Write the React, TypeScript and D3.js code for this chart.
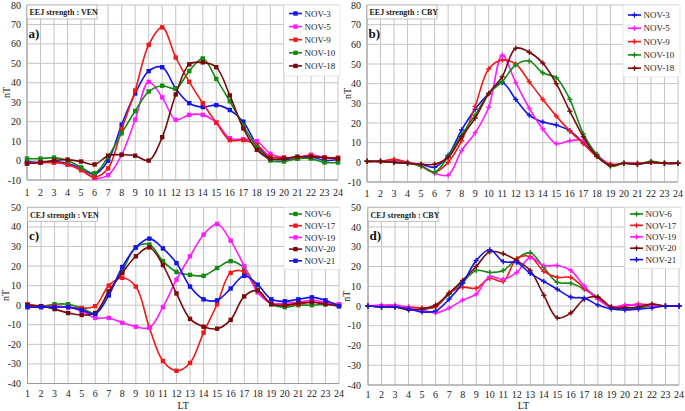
import React from "react";
import * as d3 from "d3";

// ---------- DATA ----------
const hours = [1, 2, 3, 4, 5, 6, 7, 8, 9, 10, 11, 12, 13, 14, 15, 16, 17, 18, 19, 20, 21, 22, 23, 24];

const eejNames = ["NOV-3", "NOV-5", "NOV-9", "NOV-10", "NOV-18"];
const cejNames = ["NOV-6", "NOV-17", "NOV-19", "NOV-20", "NOV-21"];

// a) EEJ strength : VEN
const venEEJ_nov3 = [-0.5, -1, -0.5, -1.5, -4, -7, 0, 18.5, 34.5, 46, 48, 37, 29.5, 27.5, 28.5, 26, 20, 8, 1, 0.5, 1, 2, 0, 0.5];
const venEEJ_nov5 = [-1.5, -1, -1, -2, -4.5, -9, -7.5, 3, 21, 40.5, 32.5, 21, 23.5, 23.5, 19.5, 11.5, 11, 10, 3.5, 1.5, 1.5, 3, 1.5, 1];
const venEEJ_nov9 = [-1.5, -1, -1, -2, -5, -8.5, -4, 16, 36, 59.5, 68.5, 53, 40.5, 29.5, 19.5, 10.5, 10.5, 8, 2, 1.5, 1.5, 2.5, 1.5, 1.5];
const venEEJ_nov10 = [1, 1, 1.5, 0, -3.5, -6.5, 2, 14, 25.5, 35.5, 38.5, 37, 46, 52.5, 42, 30.5, 18, 7, 0, -0.5, 1, 1, -1, -1];
const venEEJ_nov18 = [-1.5, -1, 0, 0.5, -0.5, -2, 2.5, 3, 2.5, 0, 12, 34, 49.5, 50.5, 48, 33.5, 16.5, 5.5, 1, 1, 2, 2, 1.5, 1];

// b) EEJ strength : CBY
const cbyEEJ_nov3 = [0.5, 0.5, 0, -0.5, -1, -2.5, 3.5, 16.5, 27, 35, 40.5, 32, 24, 20.5, 19, 16, 10, 3, -1.5, -0.5, -1, 0, -0.5, -0.5];
const cbyEEJ_nov5 = [0.5, 0.5, 1, 0, -1.5, -5.5, -6.5, 6, 15, 28, 54.5, 40.5, 27.5, 17, 9.5, 11, 11, 4, -1, -0.5, -0.5, 0, -0.5, -0.5];
const cbyEEJ_nov9 = [0.5, 0.5, 1.5, 0, -2, -5, 0, 11, 28.5, 47.5, 52, 50, 41, 32, 23.5, 16, 9.5, 3, -1, -0.5, -0.5, 0, -0.5, -0.5];
const cbyEEJ_nov10 = [0.5, 0.5, 0, -0.5, -2, -5, 3, 14, 24, 35, 41, 49.5, 51.5, 45.5, 43, 32, 14.5, 4, -2, -0.5, -1, 0.5, -0.5, -0.5];
const cbyEEJ_nov18 = [0.5, 0.5, 0, -0.5, -1, -1, 2.5, 13, 22.5, 35, 43.5, 58, 56, 50.5, 40, 26, 13, 3, -1.5, -0.5, -1, 0, -0.5, -0.5];

// c) CEJ strength : VEN
const venCEJ_nov6 = [0.5, -0.5, 0.5, 0.5, -1.5, -4, 7, 17.5, 29.5, 31, 22.5, 17, 15.5, 15, 19, 22.5, 19, 8, 0.5, -1, 0, 0, 0.5, 0.5];
const venCEJ_nov17 = [0.5, -0.5, -0.5, -1, -1.5, -0.5, 10, 14, 9.5, -11.5, -28.5, -33.5, -29.5, -14, 0.5, 16.5, 17, 7.5, 1, 0, 0.5, 1.5, 1, 0];
const venCEJ_nov19 = [-1, -1, -1, -1, -3, -6.5, -6.5, -9, -11, -11.5, -1, 13, 25, 36, 41.5, 33, 20, 6.5, 1, 1, 1.5, 2.5, 1.5, 0.5];
const venCEJ_nov20 = [0, -0.5, -2, -4, -5, -4, 7, 16.5, 25, 29.5, 20.5, 6, -7, -11, -12, -7.5, 4.5, 7.5, 0.5, 0, 1, 1.5, 0.5, -0.5];
const venCEJ_nov21 = [-1, -1, -1, -1, -2.5, -4.5, 5, 19.5, 29.5, 34, 29, 21.5, 9.5, 3, 2.5, 8.5, 15, 10.5, 3, 2, 3, 4, 2.5, -0.5];

// d) CEJ strength : CBY
const cbyCEJ_nov6 = [0, 0, -0.5, -1.5, -2, 0, 6, 12, 18, 17, 18, 24, 27, 19.5, 12, 11.5, 8.5, 4.5, -1, -1, -1, 0, 0, 0];
const cbyCEJ_nov17 = [0, 0, 0, -0.5, -1, -0.5, 6.5, 9.5, 9, 14, 12.5, 24, 25, 17.5, 14.5, 14.5, 9, 3.5, -0.5, 0, 1, 0.5, 0, 0];
const cbyCEJ_nov19 = [0, 0.5, 0.5, -1, -2, -3.5, -1, 3, 6, 15, 13.5, 17, 24.5, 20.5, 20.5, 18, 10, 3.5, -0.5, 0.5, 0.5, 0, 0, 0];
const cbyCEJ_nov20 = [0, -0.5, -0.5, -2, -1.5, 0.5, 6.5, 13, 20, 27.5, 26.5, 23, 18, 5.5, -6, -3.5, 3.5, 4.5, -0.5, -1, -0.5, 1, 0, 0];
const cbyCEJ_nov21 = [0, -0.5, -0.5, -1.5, -3, -2.5, 3.5, 11.5, 23, 28.5, 22.5, 22, 16.5, 12.5, 8.5, 4.5, 4, 0.5, -1.5, -2, -1.5, -1, 0, 0];

const ticksA = [-10, 0, 10, 20, 30, 40, 50, 60, 70, 80];
const ticksC = [-40, -30, -20, -10, 0, 10, 20, 30, 40, 50];

// ---------- STYLE ----------
const BLUE = "#1414e6";
const MAG = "#ff1aff";
const RED = "#f01818";
const GREEN = "#128a12";
const DRED = "#7a0a0a";
const eejColors = [BLUE, MAG, RED, GREEN, DRED];
const cejColors = [GREEN, RED, MAG, DRED, BLUE];
const FONT = '"Liberation Serif", "Times New Roman", "DejaVu Serif", serif';

type Panel = {
  label: string;
  title: string;
  names: string[];
  colors: string[];
  series: number[][];
  ticks: number[];
  marker: "square" | "plus";
  xl: number; xr: number; yt: number; yb: number;
  legX: number; legY: number; legDy: number; legW: number; legH: number;
  nTx: number; tickRight: number; xLabOff: number; showLT: boolean;
};

const panels: Panel[] = [
  {
    label: "a)", title: "EEJ strength : VEN", names: eejNames, colors: eejColors,
    series: [venEEJ_nov3, venEEJ_nov5, venEEJ_nov9, venEEJ_nov10, venEEJ_nov18],
    ticks: ticksA, marker: "square",
    xl: 27, xr: 338, yt: 5, yb: 180,
    legX: 284, legY: 13.5, legDy: 13.1, legW: 56, legH: 71,
    nTx: 6, tickRight: 21, xLabOff: 12.5, showLT: false,
  },
  {
    label: "b)", title: "EEJ strength : CBY", names: eejNames, colors: eejColors,
    series: [cbyEEJ_nov3, cbyEEJ_nov5, cbyEEJ_nov9, cbyEEJ_nov10, cbyEEJ_nov18],
    ticks: ticksA, marker: "plus",
    xl: 367, xr: 678, yt: 5, yb: 182,
    legX: 623, legY: 15, legDy: 13.3, legW: 57, legH: 72,
    nTx: 347, tickRight: 361, xLabOff: 11, showLT: false,
  },
  {
    label: "c)", title: "CEJ strength : VEN", names: cejNames, colors: cejColors,
    series: [venCEJ_nov6, venCEJ_nov17, venCEJ_nov19, venCEJ_nov20, venCEJ_nov21],
    ticks: ticksC, marker: "square",
    xl: 27.5, xr: 339, yt: 207.3, yb: 383.5,
    legX: 284, legY: 214, legDy: 11.7, legW: 56, legH: 62,
    nTx: 6, tickRight: 21, xLabOff: 10, showLT: true,
  },
  {
    label: "d)", title: "CEJ strength : CBY", names: cejNames, colors: cejColors,
    series: [cbyCEJ_nov6, cbyCEJ_nov17, cbyCEJ_nov19, cbyCEJ_nov20, cbyCEJ_nov21],
    ticks: ticksC, marker: "plus",
    xl: 368, xr: 679, yt: 207.3, yb: 385,
    legX: 625, legY: 214, legDy: 11.4, legW: 56, legH: 61,
    nTx: 347, tickRight: 361, xLabOff: 9, showLT: true,
  },
];

function Marker({ kind, x, y, color }: { kind: string; x: number; y: number; color: string }) {
  if (kind === "square") {
    return <rect x={x - 2.2} y={y - 2.2} width={4.4} height={4.4} fill={color} />;
  }
  return (
    <g stroke={color} strokeWidth={1.4}>
      <line x1={x - 2.6} x2={x + 2.6} y1={y} y2={y} />
      <line x1={x} x2={x} y1={y - 2.6} y2={y + 2.6} />
    </g>
  );
}

function PanelView({ p }: { p: Panel }) {
  const yMin = d3.min(p.ticks) as number;
  const yMax = d3.max(p.ticks) as number;
  const x = d3.scaleLinear().domain([hours[0], hours[hours.length - 1]]).range([p.xl, p.xr]);
  const y = d3.scaleLinear().domain([yMin, yMax]).range([p.yb, p.yt]);
  const line = d3
    .line<number>()
    .x((_, i) => x(hours[i]))
    .y((d) => y(d))
    .curve(d3.curveCatmullRom.alpha(0.5));
  const midY = (p.yt + p.yb) / 2;
  const txt = { fontFamily: FONT };
  return (
    <g style={txt}>
      {/* grid */}
      {p.ticks.map((t) => (
        <line key={"h" + t} x1={p.xl} x2={p.xr} y1={y(t)} y2={y(t)} stroke="#c4c4c4" strokeWidth={1} />
      ))}
      {hours.map((h) => (
        <line key={"v" + h} x1={x(h)} x2={x(h)} y1={p.yt} y2={p.yb} stroke="#c4c4c4" strokeWidth={1} />
      ))}
      <line x1={p.xl} x2={p.xl} y1={p.yt} y2={p.yb} stroke="#9a9a9a" strokeWidth={1} />
      <line x1={p.xl} x2={p.xr} y1={p.yb} y2={p.yb} stroke="#9a9a9a" strokeWidth={1} />
      {/* y tick labels */}
      {p.ticks.map((t) => (
        <text key={"yt" + t} x={p.tickRight} y={y(t)} dy="0.35em" textAnchor="end" fontSize={10} style={txt} fill="#222">
          {t}
        </text>
      ))}
      {/* x tick labels */}
      {hours.map((h) => (
        <text key={"xt" + h} x={x(h)} y={p.yb + p.xLabOff} dy="0.35em" textAnchor="middle" fontSize={10} style={txt} fill="#222">
          {h}
        </text>
      ))}
      <text x={p.nTx} y={midY} transform={`rotate(-90 ${p.nTx} ${midY})`} dy="0.35em" textAnchor="middle" fontSize={10} style={txt} fill="#222">
        nT
      </text>
      {p.showLT && (
        <text x={(p.xl + p.xr) / 2} y={405} dy="0.35em" textAnchor="middle" fontSize={10} style={txt} fill="#222">
          LT
        </text>
      )}
      {/* series */}
      {p.series.map((s, si) => (
        <g key={"s" + si}>
          <path d={line(s) || ""} fill="none" stroke={p.colors[si]} strokeWidth={1.6} />
          {s.map((v, i) => (
            <Marker key={i} kind={p.marker} x={x(hours[i])} y={y(v)} color={p.colors[si]} />
          ))}
        </g>
      ))}
      {/* title box */}
      <rect x={p.xl} y={p.yt} width={70} height={14} fill="#fff" stroke="#b0b0b0" strokeWidth={0.8} />
      <text x={p.xl + 2.5} y={p.yt + 7.5} dy="0.35em" fontSize={8} fontWeight="bold" style={txt} fill="#222">
        {p.title}
      </text>
      <text x={p.xl + 1.5} y={p.yt + 28.5} dy="0.35em" fontSize={13} fontWeight="bold" style={txt} fill="#111">
        {p.label}
      </text>
      {/* legend */}
      <rect x={p.legX} y={p.yt} width={p.legW} height={p.legH} fill="#fff" stroke="#d8d8d8" strokeWidth={0.6} />
      {p.names.map((n, i) => {
        const ly = p.legY + i * p.legDy;
        const lx = p.legX + 5;
        return (
          <g key={"l" + n}>
            <line x1={lx} x2={lx + 13} y1={ly} y2={ly} stroke={p.colors[i]} strokeWidth={1.6} />
            <Marker kind={p.marker} x={lx + 6.5} y={ly} color={p.colors[i]} />
            <text x={lx + 15.5} y={ly} dy="0.35em" fontSize={9} style={txt} fill="#222">
              {n}
            </text>
          </g>
        );
      })}
    </g>
  );
}

export default function App() {
  return (
    <div style={{ position: "fixed", left: 0, top: 0, width: 685, height: 411, background: "#fff" }}>
      <svg width={685} height={411} viewBox="0 0 685 411" style={{ display: "block", fontFamily: FONT }}>
        <rect x={0} y={0} width={685} height={411} fill="#fff" />
        {panels.map((p) => (
          <PanelView key={p.label} p={p} />
        ))}
      </svg>
    </div>
  );
}
